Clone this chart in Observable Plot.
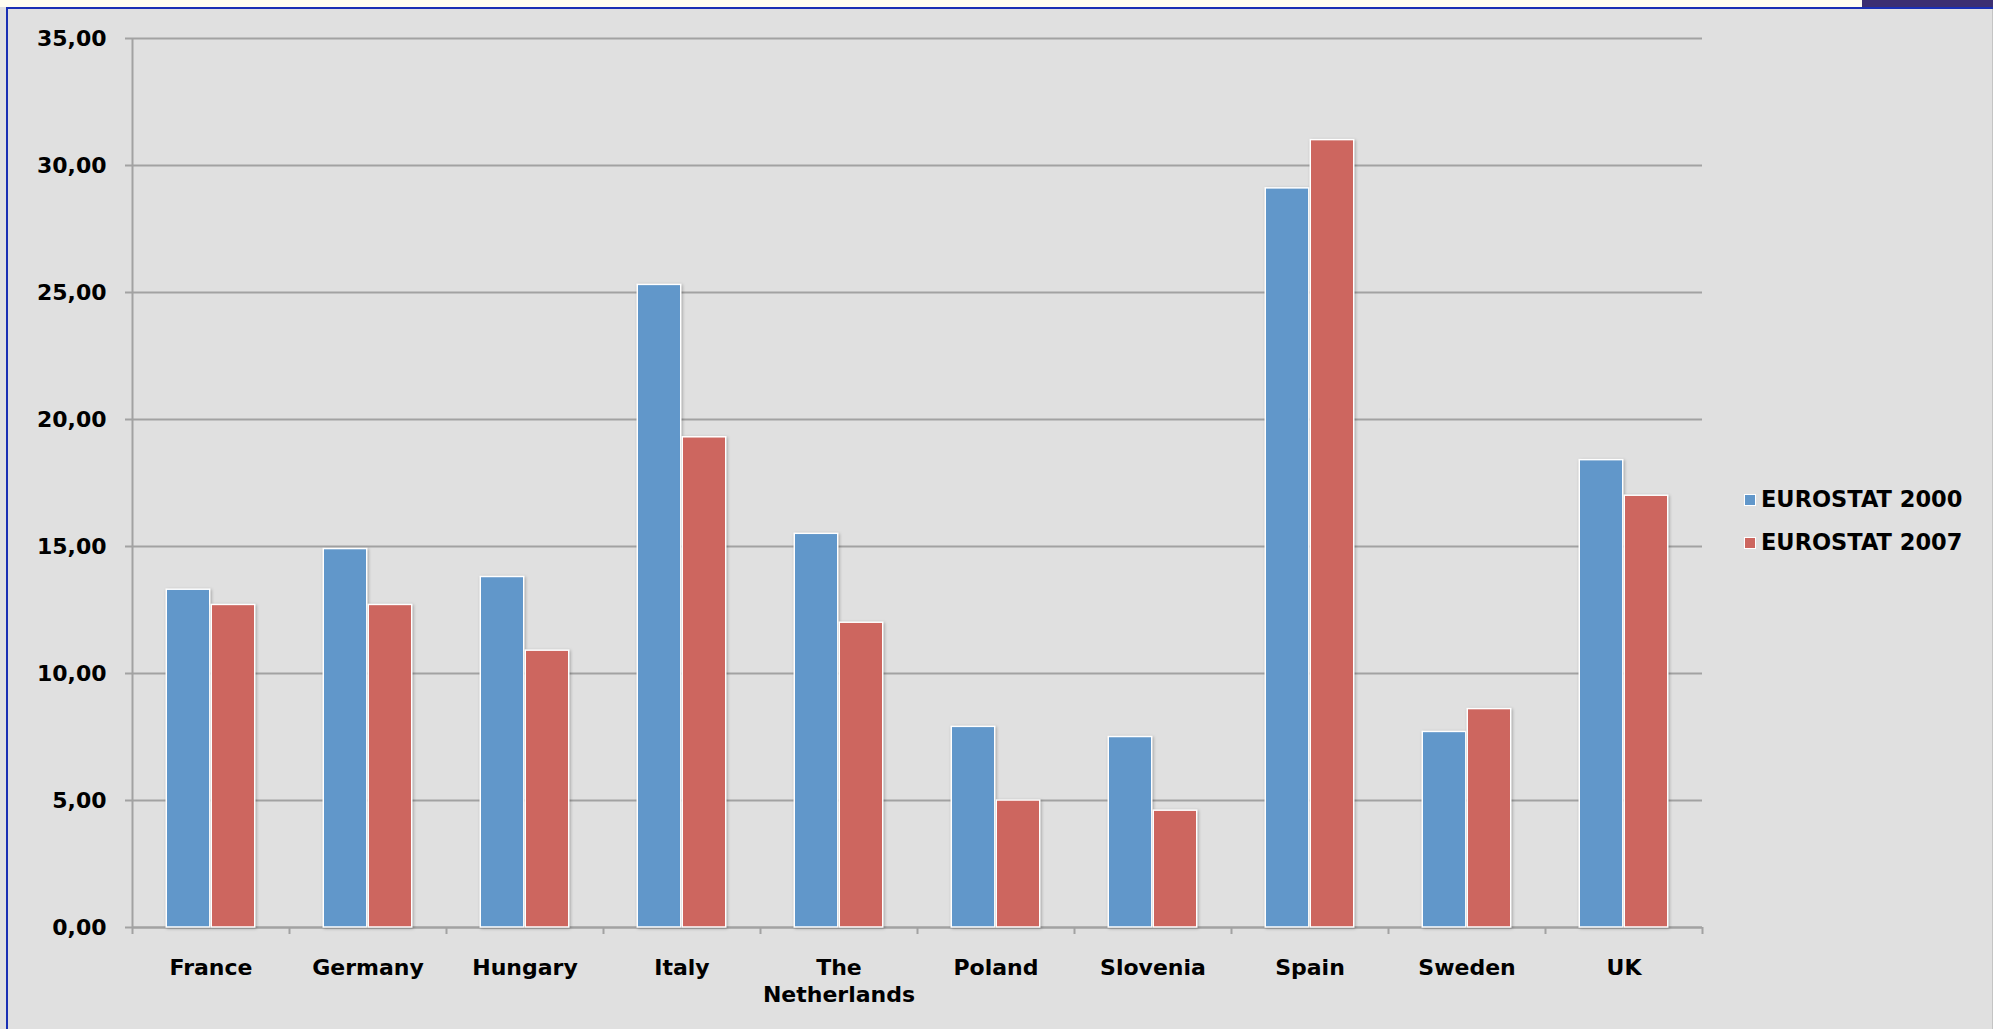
<!DOCTYPE html>
<html>
<head>
<meta charset="utf-8">
<script src="https://cdn.jsdelivr.net/npm/d3@7"></script>
<script src="https://cdn.jsdelivr.net/npm/@observablehq/plot@0.6"></script>
<style>
  html, body { margin: 0; padding: 0; background: #e0e0e0; }
  #page { position: relative; width: 1993px; height: 1029px; overflow: hidden; background: #e0e0e0;
          font-family: "DejaVu Sans", Verdana, sans-serif; }
  #strip { position: absolute; left: 0; top: 0; width: 1993px; height: 7px; background: #fffef0; }
  #strip2 { position: absolute; left: 1862px; top: 0; width: 131px; height: 7px; background: #3b2f72; }
  #topline { position: absolute; left: 6px; top: 7px; width: 1987px; height: 2px; background: #1a30b4; }
  #leftline { position: absolute; left: 6px; top: 7px; width: 2px; height: 1022px; background: #1a30b4; }
  #rightline { position: absolute; left: 1992px; top: 9px; width: 1px; height: 1020px; background: #c4c4c4; }
  #chart { position: absolute; left: 0; top: 0; }
  #legend { position: absolute; left: 1744px; top: 478px; font-size: 22.5px; font-weight: bold; color: #000; }
  #legend .item { display: flex; align-items: center; height: 43px; line-height: 43px; white-space: nowrap; }
  #legend .sw { width: 10px; height: 10px; border: 1.5px solid #fff; margin-right: 5px; box-sizing: content-box; }
  g[aria-label="bar"] rect { filter: drop-shadow(1px 1px 1.5px rgba(0,0,0,0.28)); }
</style>
</head>
<body>
<div id="page">
  <div id="strip"></div>
  <div id="strip2"></div>
  <div id="topline"></div>
  <div id="leftline"></div>
  <div id="rightline"></div>
  <div id="chart"></div>
  <div id="legend"></div>
</div>
<script>
const countries = ["France", "Germany", "Hungary", "Italy", "The Netherlands", "Poland", "Slovenia", "Spain", "Sweden", "UK"];
const series = ["EUROSTAT 2000", "EUROSTAT 2007"];
const values2000 = [13.3, 14.9, 13.8, 25.3, 15.5, 7.9, 7.5, 29.1, 7.7, 18.4];
const values2007 = [12.7, 12.7, 10.9, 19.3, 12.0, 5.0, 4.6, 31.0, 8.6, 17.0];
const yTicks = [0, 5, 10, 15, 20, 25, 30, 35];
const colors = ["#6197ca", "#cd665f"];

const rows = countries.flatMap((c, i) => [
  {country: c, series: series[0], value: values2000[i]},
  {country: c, series: series[1], value: values2007[i]}
]);

const W = 1993, H = 1029;
const mL = 132, mR = 291, mT = 38, mB = 102;
const band = (W - mL - mR) / countries.length;
const barW = 43.5;               // rect width; stroke adds to visual width
const half = (barW + 1.5) / 2;   // offset of each bar centre from band centre
const inset = (band - barW) / 2;
const gridColor = "#a2a2a2";
const font = "DejaVu Sans";

const chart = Plot.plot({
  width: W,
  height: H,
  marginLeft: mL,
  marginRight: mR,
  marginTop: mT,
  marginBottom: mB,
  style: {background: "transparent", color: "#000", fontFamily: font, overflow: "visible"},
  x: {domain: countries, padding: 0, axis: null, label: null},
  y: {domain: [0, 35], axis: null, label: null},
  color: {domain: series, range: colors},
  marks: [
    Plot.gridY(yTicks, {stroke: gridColor, strokeOpacity: 1, strokeWidth: 2}),
    Plot.axisY(yTicks, {
      tickSize: 7, tickPadding: 19, stroke: gridColor, strokeWidth: 2, label: null,
      tickFormat: d => d.toFixed(2).replace(".", ","),
      fontSize: 22, fontWeight: "bold", fill: "#000"
    }),
    Plot.ruleX([countries[0]], {x: d => d, dx: -band / 2, stroke: gridColor, strokeWidth: 2}),
    Plot.ruleY([0], {stroke: gridColor, strokeWidth: 2}),
    Plot.ruleX(countries, {x: d => d, dx: -band / 2, y1: 0, y2: 0, insetBottom: -7, stroke: gridColor, strokeWidth: 2}),
    Plot.ruleX([countries[countries.length - 1]], {x: d => d, dx: band / 2, y1: 0, y2: 0, insetBottom: -7, stroke: gridColor, strokeWidth: 2}),
    Plot.axisX({
      tickSize: 0, tickPadding: 28, label: null,
      tickFormat: d => d === "The Netherlands" ? "The\nNetherlands" : d,
      fontSize: 22, fontWeight: "bold", fill: "#000", lineHeight: 1.23
    }),
    Plot.barY(rows.filter(d => d.series === series[0]), {
      x: "country", y: "value", fill: "series", dx: -half,
      insetLeft: inset, insetRight: inset, stroke: "#ffffff", strokeWidth: 1.5
    }),
    Plot.barY(rows.filter(d => d.series === series[1]), {
      x: "country", y: "value", fill: "series", dx: half,
      insetLeft: inset, insetRight: inset, stroke: "#ffffff", strokeWidth: 1.5
    })
  ]
});
document.getElementById("chart").appendChild(chart);

const legend = document.getElementById("legend");
series.forEach((s, i) => {
  const item = document.createElement("div");
  item.className = "item";
  const sw = document.createElement("span");
  sw.className = "sw";
  sw.style.background = colors[i];
  const label = document.createElement("span");
  label.textContent = s;
  item.appendChild(sw);
  item.appendChild(label);
  legend.appendChild(item);
});
</script>
</body>
</html>
